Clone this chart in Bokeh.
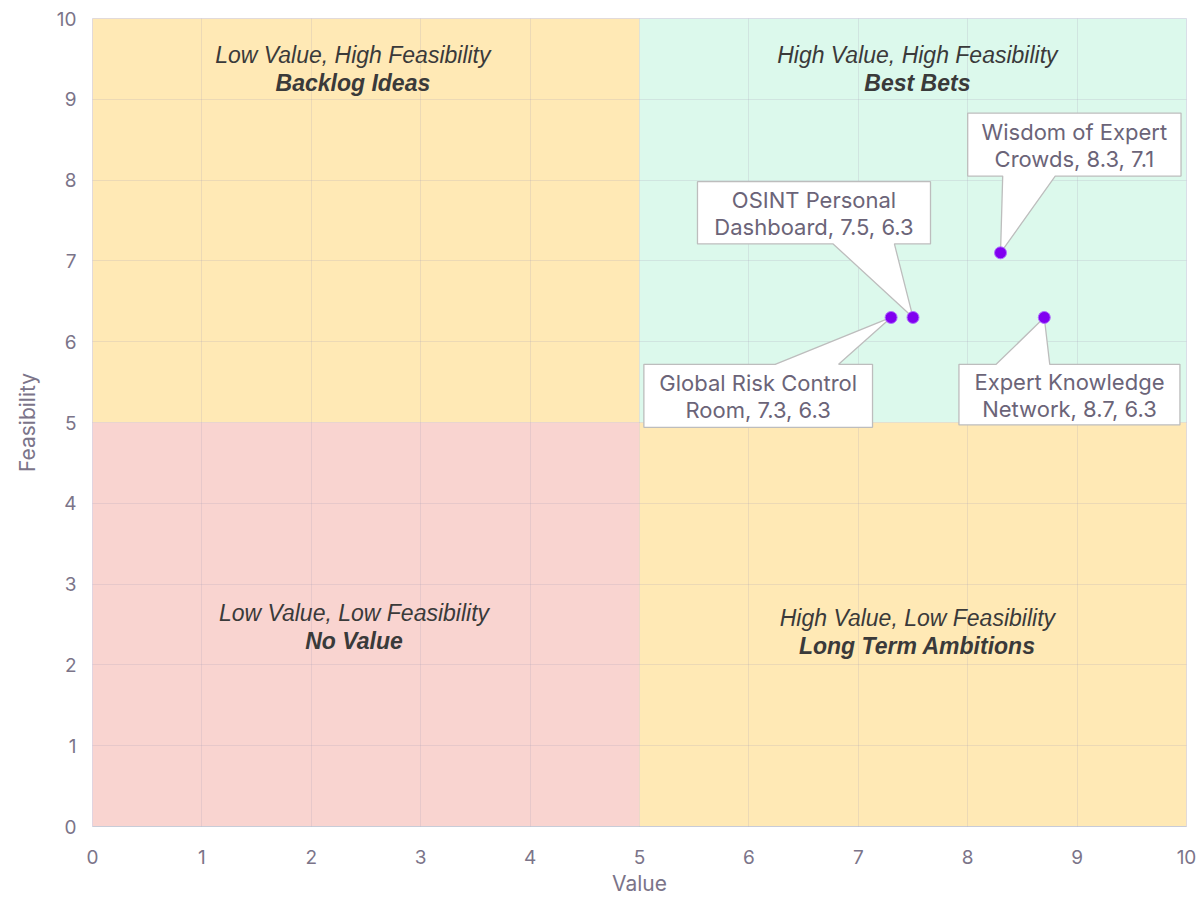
from bokeh.plotting import figure
from bokeh.models import ColumnDataSource, Range1d, FixedTicker
from bokeh.core.properties import value
from bokeh.embed import file_html
from bokeh.resources import INLINE

# ---------------- data ----------------
idea_line1 = ["Wisdom of Expert", "OSINT Personal", "Global Risk Control", "Expert Knowledge"]
idea_line2 = ["Crowds", "Dashboard", "Room", "Network"]
idea_value = [8.3, 7.5, 7.3, 8.7]
idea_feasibility = [7.1, 6.3, 6.3, 6.3]

quad_titles = ["Low Value, High Feasibility", "High Value, High Feasibility",
               "Low Value, Low Feasibility", "High Value, Low Feasibility"]
quad_names = ["Backlog Ideas", "Best Bets", "No Value", "Long Term Ambitions"]
quad_left = [0, 5, 0, 5]
quad_right = [5, 10, 5, 10]
quad_bottom = [5, 5, 0, 0]
quad_top = [10, 10, 5, 5]
quad_colors = ["#FFE9B5", "#DCF9EC", "#F9D4D0", "#FFE9B5"]

ticks = list(range(0, 11))

# ---------------- layout constants (not data) ----------------
# callout box offsets relative to each point: (x0, x1, y0, y1, base0, base1, edge)
callout_layout = [
    (-0.30, 1.65, 0.95, 1.73, 0.02, 0.50, "bottom"),
    (-1.97, 0.16, 0.91, 1.68, -0.73, -0.17, "bottom"),
    (-2.26, -0.17, -1.36, -0.58, -1.06, -0.48, "top"),
    (-0.78, 1.24, -1.33, -0.58, -0.44, 0.05, "top"),
]
quad_label_pos = [(2.38, 9.38), (7.54, 9.38), (2.39, 2.47), (7.54, 2.41)]

FONT = "Inter"
TICK_COLOR = "#7B7489"
LABEL_COLOR = "#6B6478"

p = figure(frame_width=1094, frame_height=808, output_backend="svg",
           toolbar_location=None, x_range=Range1d(0, 10), y_range=Range1d(0, 10),
           min_border_left=92, min_border_top=18, min_border_right=14, min_border_bottom=58)
p.background_fill_color = "white"
p.border_fill_color = "white"
p.outline_line_color = "#D8D4E6"
p.outline_line_width = 1

# quadrants
qsrc = ColumnDataSource(dict(left=quad_left, right=quad_right, bottom=quad_bottom,
                             top=quad_top, color=quad_colors))
p.quad(left="left", right="right", bottom="bottom", top="top", fill_color="color",
       line_color=None, source=qsrc)

# grid over quadrant fills
for g in (p.xgrid, p.ygrid):
    g.level = "guide"
    g.grid_line_color = "#A8A0B4"
    g.grid_line_alpha = 0.22
    g.grid_line_width = 1
p.xgrid.ticker = FixedTicker(ticks=ticks)
p.ygrid.ticker = FixedTicker(ticks=ticks)

# axes
for ax in (p.xaxis, p.yaxis):
    ax.ticker = FixedTicker(ticks=ticks)
    ax.major_tick_line_color = None
    ax.minor_tick_line_color = None
    ax.major_label_text_font = FONT
    ax.major_label_text_font_size = "19px"
    ax.major_label_text_color = TICK_COLOR
    ax.axis_label_text_font = FONT
    ax.axis_label_text_font_size = "21px"
    ax.axis_label_text_font_style = "normal"
    ax.axis_label_text_color = TICK_COLOR
p.xaxis.axis_label = "Value"
p.yaxis.axis_label = "Feasibility"
p.xaxis.axis_line_color = "#C8CCD8"
p.yaxis.axis_line_color = None
p.xaxis.major_label_standoff = 17
p.xaxis.axis_label_standoff = 4
p.yaxis.major_label_standoff = 10
p.yaxis.axis_label_standoff = 14

# quadrant labels
qx = [pos[0] for pos in quad_label_pos]
qy = [pos[1] for pos in quad_label_pos]
qlsrc = ColumnDataSource(dict(x=qx, y=qy, t=quad_titles, n=quad_names))
p.text(x="x", y="y", text="t", source=qlsrc, text_font=value("Liberation Sans"),
       text_font_style="italic", text_font_size="23px", text_color="#3A3A3A",
       text_align="center", text_baseline="middle", y_offset=-14, level="annotation")
p.text(x="x", y="y", text="n", source=qlsrc, text_font=value("Liberation Sans"),
       text_font_style="bold italic", text_font_size="23px", text_color="#3A3A3A",
       text_align="center", text_baseline="middle", y_offset=14, level="annotation")

# callouts
xs, ys, cx, cy, t1, t2 = [], [], [], [], [], []
for i, (px, py) in enumerate(zip(idea_value, idea_feasibility)):
    x0, x1, y0, y1, b0, b1, edge = callout_layout[i]
    X0, X1, Y0, Y1 = px + x0, px + x1, py + y0, py + y1
    B0, B1 = px + b0, px + b1
    if edge == "bottom":
        polyx = [X0, X1, X1, B1, px, B0, X0]
        polyy = [Y1, Y1, Y0, Y0, py, Y0, Y0]
    else:
        polyx = [X0, X1, X1, B1, px, B0, X0]
        polyy = [Y0, Y0, Y1, Y1, py, Y1, Y1]
    xs.append(polyx)
    ys.append(polyy)
    cx.append((X0 + X1) / 2)
    cy.append((Y0 + Y1) / 2)
    t1.append(idea_line1[i])
    t2.append(f"{idea_line2[i]}, {px}, {py}")

csrc = ColumnDataSource(dict(xs=xs, ys=ys))
p.patches(xs="xs", ys="ys", source=csrc, fill_color="white", line_color="#BDBDBD",
          line_width=1.3, level="annotation")
tsrc = ColumnDataSource(dict(x=cx, y=cy, t1=t1, t2=t2))
p.text(x="x", y="y", text="t1", source=tsrc, text_font=value(FONT), text_font_size="22px",
       text_color=LABEL_COLOR, text_align="center", text_baseline="middle",
       y_offset=-13, level="annotation")
p.text(x="x", y="y", text="t2", source=tsrc, text_font=value(FONT), text_font_size="22px",
       text_color=LABEL_COLOR, text_align="center", text_baseline="middle",
       y_offset=14, level="annotation")

# points
psrc = ColumnDataSource(dict(x=idea_value, y=idea_feasibility))
p.scatter(x="x", y="y", source=psrc, size=12, fill_color="#8000F0",
          line_color="#B070FF", line_width=1, level="overlay")

open("out.html", "w").write(file_html(p, INLINE))
